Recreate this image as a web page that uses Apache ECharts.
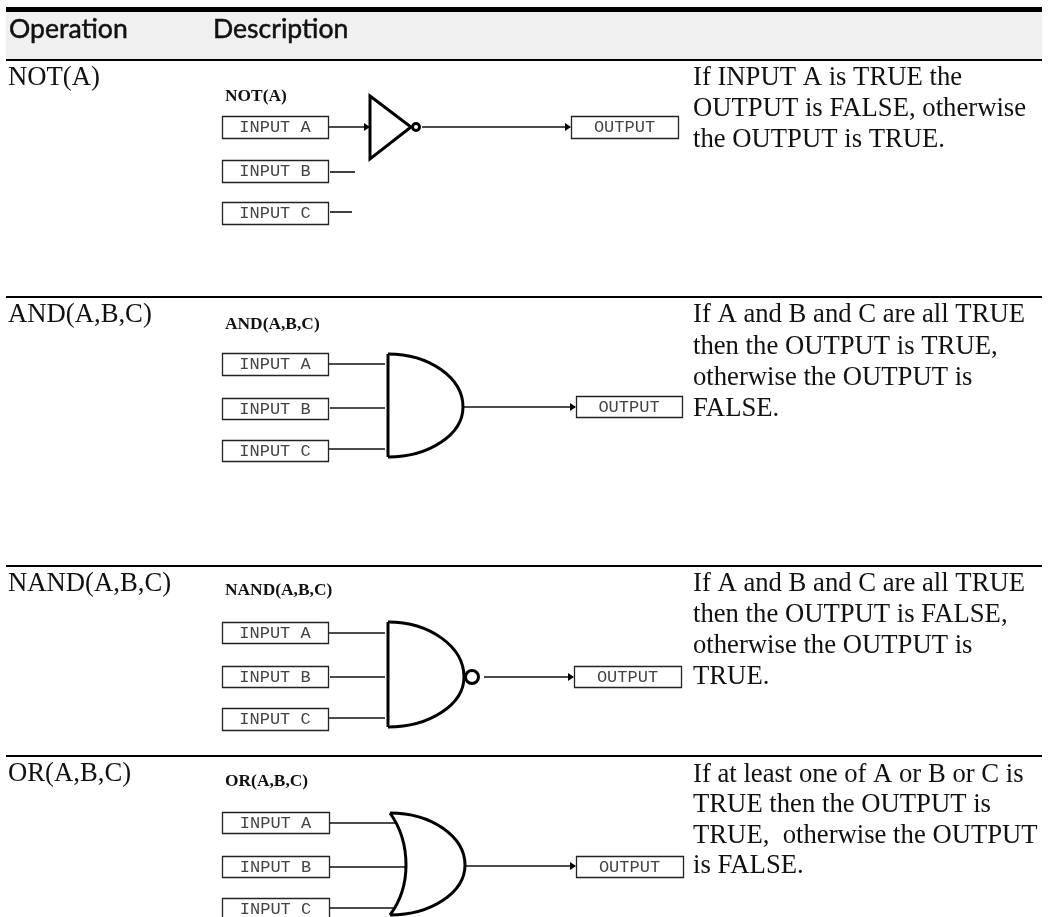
<!DOCTYPE html>
<html lang="en">
<head>
    <meta charset="UTF-8">
    <title>Logic operations</title>
    <script src="https://cdn.jsdelivr.net/npm/echarts@6/dist/echarts.min.js"></script>
    <style>
        html,body{
            margin: 0;
            padding: 0;
            background: #fff;
        }
        #main{
            width: 1052px;
            height: 917px;
        }
    </style>
</head>
<body>
    <div id="main"></div>
    <script>
        const headerBand = [[6, 12, 1042, 59]]
        const heavyRules = [[6, 9.5, 1042, 9.5]]
        const mediumRules = [[6, 60, 1042, 60], [6, 297, 1042, 297], [6, 566, 1042, 566], [6, 756, 1042, 756]]

        const headerTexts = [[9, 29, 'Operation'], [213, 29, 'Description']]
        const operationTexts = [[8, 78, 'NOT(A)'], [8, 315, 'AND(A,B,C)'], [8, 584, 'NAND(A,B,C)'], [8, 774, 'OR(A,B,C)']]
        const gateTitles = [[225, 97, 'NOT(A)'], [225, 325, 'AND(A,B,C)'], [225, 591, 'NAND(A,B,C)'], [225, 782, 'OR(A,B,C)']]
        const descriptionTexts = [
            [693, 78, 'If INPUT A is TRUE the'],
            [693, 109, 'OUTPUT is FALSE, otherwise'],
            [693, 140, 'the OUTPUT is TRUE.'],
            [693, 315, 'If A and B and C are all TRUE'],
            [693, 347, 'then the OUTPUT is TRUE,'],
            [693, 378, 'otherwise the OUTPUT is'],
            [693, 409, 'FALSE.'],
            [693, 584, 'If A and B and C are all TRUE'],
            [693, 615, 'then the OUTPUT is FALSE,'],
            [693, 646, 'otherwise the OUTPUT is'],
            [693, 677, 'TRUE.'],
            [693, 775, 'If at least one of A or B or C is'],
            [693, 805, 'TRUE then the OUTPUT is'],
            [693, 836, 'TRUE,  otherwise the OUTPUT'],
            [693, 866, 'is FALSE.']
        ]

        const boxes = [
            [222, 116, 328, 138, 'INPUT A'], [222, 160, 328, 182, 'INPUT B'], [222, 202, 328, 224, 'INPUT C'], [571, 116, 678, 138, 'OUTPUT'],
            [222, 353, 328, 375, 'INPUT A'], [222, 398, 328, 419, 'INPUT B'], [222, 440, 328, 461, 'INPUT C'], [576, 396, 682, 417, 'OUTPUT'],
            [222, 622, 328, 643, 'INPUT A'], [222, 666, 328, 687, 'INPUT B'], [222, 708, 328, 730, 'INPUT C'], [574, 666, 681, 687, 'OUTPUT'],
            [222, 812, 329, 833, 'INPUT A'], [222, 856, 329, 877, 'INPUT B'], [222, 898, 329, 925, 'INPUT C'], [576, 856, 683, 877, 'OUTPUT']
        ]
        const wires = [
            [329, 127, 368], [330, 172, 355], [330, 212, 352], [422, 127, 570],
            [329, 364, 385], [330, 408, 385], [329, 449, 385], [464, 407, 575],
            [329, 633, 385], [330, 677, 385], [329, 718, 385], [484, 677, 573],
            [329, 823, 396], [330, 867, 405], [329, 908, 396], [466, 866, 575]
        ]
        const arrowHeads = [[370, 127], [571, 127], [576, 407], [574, 677], [576, 866]]
        const bubbles = [[416, 127, 3.5], [472, 677, 6.5]]
        const triangles = [[370, 96, 411, 127, 159]]
        // left, top, peak x, peak y, bottom
        const andGates = [[388, 354, 463, 407, 457], [388, 622, 464, 677, 727]]
        // top x, top y, peak x, peak y, bottom y, back curve x
        const orGates = [[390, 813, 465, 865, 915, 406]]

        let myChart = echarts.init(document.getElementById('main'), null, {renderer: 'canvas'})

        function lineSeries(rows, width, color){
            return {
                type: 'custom',
                silent: true,
                data: rows,
                renderItem: function(params, api){
                    let a = api.coord([api.value(0), api.value(1)])
                    let b = api.coord([api.value(2), api.value(3)])
                    return {type: 'line', shape: {x1: a[0], y1: a[1], x2: b[0], y2: b[1]}, style: {stroke: color, lineWidth: width}}
                }
            }
        }

        function textSeries(rows, font, color, thicken){
            return {
                type: 'custom',
                silent: true,
                data: rows,
                renderItem: function(params, api){
                    let p = api.coord([api.value(0), api.value(1)])
                    let style = {text: rows[params.dataIndex][2], x: p[0], y: p[1], font: font, fill: color, align: 'left', verticalAlign: 'middle'}
                    if (thicken) {
                        style.stroke = color
                        style.lineWidth = thicken
                    }
                    return {type: 'text', style: style}
                }
            }
        }

        const bandSeries = {
            type: 'custom',
            silent: true,
            data: headerBand,
            renderItem: function(params, api){
                let a = api.coord([api.value(0), api.value(1)])
                let b = api.coord([api.value(2), api.value(3)])
                return {type: 'rect', shape: {x: a[0], y: a[1], width: b[0] - a[0], height: b[1] - a[1]}, style: {fill: '#f0f0f0'}}
            }
        }

        const boxSeries = {
            type: 'custom',
            silent: true,
            data: boxes,
            renderItem: function(params, api){
                let a = api.coord([api.value(0), api.value(1)])
                let b = api.coord([api.value(2), api.value(3)])
                let label = boxes[params.dataIndex][4]
                return {
                    type: 'group',
                    children: [
                        {type: 'rect', shape: {x: a[0] + 0.5, y: a[1] + 0.5, width: b[0] - a[0], height: b[1] - a[1]}, style: {fill: '#fff', stroke: '#222', lineWidth: 1.3}},
                        {type: 'text', style: {text: label, x: (a[0] + b[0]) / 2, y: a[1] + 11, font: '17px "Liberation Mono"', fill: '#444', align: 'center', verticalAlign: 'middle'}}
                    ]
                }
            }
        }

        const wireSeries = {
            type: 'custom',
            silent: true,
            data: wires,
            renderItem: function(params, api){
                let a = api.coord([api.value(0), api.value(1)])
                let b = api.coord([api.value(2), api.value(1)])
                return {type: 'line', shape: {x1: a[0], y1: a[1], x2: b[0], y2: b[1]}, style: {stroke: '#111', lineWidth: 1.6}}
            }
        }

        const arrowSeries = {
            type: 'custom',
            silent: true,
            data: arrowHeads,
            renderItem: function(params, api){
                let p = api.coord([api.value(0), api.value(1)])
                return {type: 'polygon', shape: {points: [[p[0], p[1]], [p[0] - 6, p[1] - 4], [p[0] - 6, p[1] + 4]]}, style: {fill: '#000'}}
            }
        }

        const gateStyle = {fill: 'none', stroke: '#000', lineWidth: 3}

        const bubbleSeries = {
            type: 'custom',
            silent: true,
            data: bubbles,
            renderItem: function(params, api){
                let p = api.coord([api.value(0), api.value(1)])
                return {type: 'circle', shape: {cx: p[0], cy: p[1], r: api.value(2)}, style: {fill: '#fff', stroke: '#000', lineWidth: 3}}
            }
        }

        const triangleSeries = {
            type: 'custom',
            silent: true,
            data: triangles,
            renderItem: function(params, api){
                let top = api.coord([api.value(0), api.value(1)])
                let tip = api.coord([api.value(2), api.value(3)])
                let bottom = api.coord([api.value(0), api.value(4)])
                return {type: 'polygon', shape: {points: [top, tip, bottom]}, style: gateStyle}
            }
        }

        function curve(from, to, cp1, cp2){
            return {type: 'bezierCurve', shape: {x1: from[0], y1: from[1], x2: to[0], y2: to[1], cpx1: cp1[0], cpy1: cp1[1], cpx2: cp2[0], cpy2: cp2[1]}, style: gateStyle}
        }

        // front of a gate, two quarter ellipses meeting at the peak
        function front(top, peak, bottom){
            let k = 0.55
            return [
                curve(top, peak, [top[0] + (peak[0] - top[0]) * k, top[1]], [peak[0], peak[1] - (peak[1] - top[1]) * k]),
                curve(peak, bottom, [peak[0], peak[1] + (bottom[1] - peak[1]) * k], [bottom[0] + (peak[0] - bottom[0]) * k, bottom[1]])
            ]
        }

        const andSeries = {
            type: 'custom',
            silent: true,
            data: andGates,
            renderItem: function(params, api){
                let top = api.coord([api.value(0), api.value(1)])
                let peak = api.coord([api.value(2), api.value(3)])
                let bottom = api.coord([api.value(0), api.value(4)])
                return {
                    type: 'group',
                    children: [{type: 'line', shape: {x1: top[0], y1: top[1], x2: bottom[0], y2: bottom[1]}, style: gateStyle}].concat(front(top, peak, bottom))
                }
            }
        }

        const orSeries = {
            type: 'custom',
            silent: true,
            data: orGates,
            renderItem: function(params, api){
                let top = api.coord([api.value(0), api.value(1)])
                let peak = api.coord([api.value(2), api.value(3)])
                let bottom = api.coord([api.value(0), api.value(4)])
                let back = api.coord([api.value(5), api.value(3)])
                let dx = back[0] - top[0]
                return {
                    type: 'group',
                    children: front(top, peak, bottom).concat([
                        curve(top, back, [top[0] + dx * 0.7, top[1] + (back[1] - top[1]) * 0.3], [back[0], back[1] - (back[1] - top[1]) * 0.35]),
                        curve(back, bottom, [back[0], back[1] + (bottom[1] - back[1]) * 0.35], [bottom[0] + dx * 0.7, bottom[1] - (bottom[1] - back[1]) * 0.3])
                    ])
                }
            }
        }

        let option = {
            animation: false,
            backgroundColor: '#fff',
            grid: {left: 0, right: 0, top: 0, bottom: 0},
            xAxis: {type: 'value', min: 0, max: 1052, show: false},
            yAxis: {type: 'value', min: 0, max: 917, inverse: true, show: false},
            series: [
                bandSeries,
                lineSeries(heavyRules, 5, '#000'),
                lineSeries(mediumRules, 2, '#000'),
                textSeries(headerTexts, '26.6px Lato', '#111', 0.5),
                textSeries(operationTexts, '26.7px "Liberation Serif"', '#111'),
                textSeries(gateTitles, 'bold 17.4px "Liberation Serif"', '#111'),
                textSeries(descriptionTexts, '26.7px "Liberation Serif"', '#111'),
                wireSeries,
                arrowSeries,
                triangleSeries,
                andSeries,
                orSeries,
                bubbleSeries,
                boxSeries
            ]
        }
        myChart.setOption(option)
    </script>
</body>
</html>
